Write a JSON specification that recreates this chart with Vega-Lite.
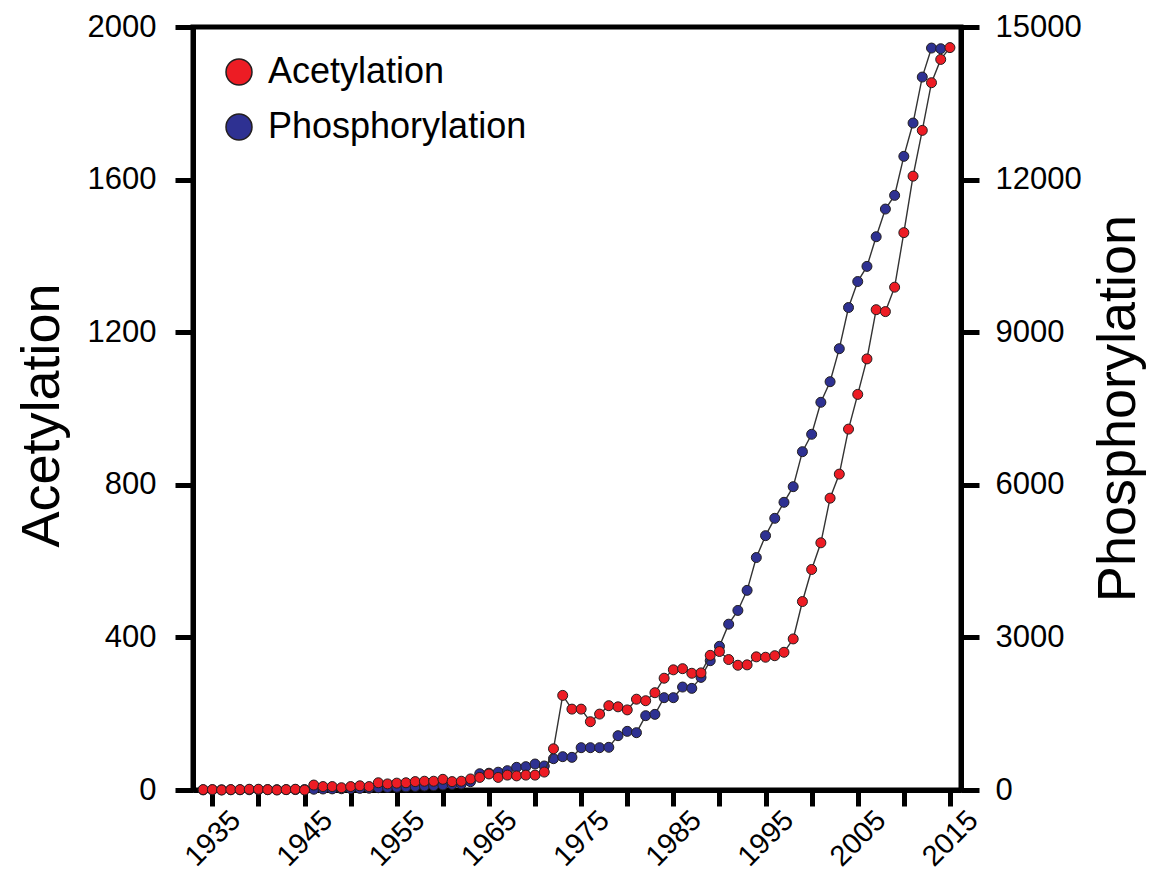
{
  "$schema": "https://vega.github.io/schema/vega-lite/v6.json",
  "autosize": {"type": "none"},
  "width": 768,
  "height": 763,
  "padding": {"left": 193, "top": 27, "right": 190, "bottom": 92},
  "background": "white",
  "config": {
    "font": "Liberation Sans",
    "view": {"stroke": "black", "strokeWidth": 5},
    "axis": {
      "domainColor": "black",
      "domainWidth": 5,
      "tickColor": "black",
      "tickWidth": 5,
      "tickSize": 18,
      "grid": false,
      "labelColor": "black",
      "labelFont": "Liberation Sans",
      "labelFontSize": 31,
      "titleFont": "Liberation Sans",
      "titleFontWeight": "normal",
      "titleColor": "black",
      "titleFontSize": 54
    }
  },
  "data": {
    "values": [
      {"year": 1934, "acetylation": 1, "phosphorylation": 2},
      {"year": 1935, "acetylation": 1, "phosphorylation": 3},
      {"year": 1936, "acetylation": 0, "phosphorylation": 3},
      {"year": 1937, "acetylation": 1, "phosphorylation": 4},
      {"year": 1938, "acetylation": 1, "phosphorylation": 4},
      {"year": 1939, "acetylation": 2, "phosphorylation": 5},
      {"year": 1940, "acetylation": 2, "phosphorylation": 5},
      {"year": 1941, "acetylation": 1, "phosphorylation": 6},
      {"year": 1942, "acetylation": 0, "phosphorylation": 6},
      {"year": 1943, "acetylation": 1, "phosphorylation": 7},
      {"year": 1944, "acetylation": 2, "phosphorylation": 8},
      {"year": 1945, "acetylation": 0, "phosphorylation": 8},
      {"year": 1946, "acetylation": 13, "phosphorylation": 15},
      {"year": 1947, "acetylation": 9, "phosphorylation": 20},
      {"year": 1948, "acetylation": 9, "phosphorylation": 22},
      {"year": 1949, "acetylation": 6, "phosphorylation": 25},
      {"year": 1950, "acetylation": 9, "phosphorylation": 28},
      {"year": 1951, "acetylation": 11, "phosphorylation": 32},
      {"year": 1952, "acetylation": 9, "phosphorylation": 35},
      {"year": 1953, "acetylation": 19, "phosphorylation": 45},
      {"year": 1954, "acetylation": 16, "phosphorylation": 50},
      {"year": 1955, "acetylation": 18, "phosphorylation": 55},
      {"year": 1956, "acetylation": 19, "phosphorylation": 62},
      {"year": 1957, "acetylation": 22, "phosphorylation": 70},
      {"year": 1958, "acetylation": 23, "phosphorylation": 78},
      {"year": 1959, "acetylation": 23, "phosphorylation": 85},
      {"year": 1960, "acetylation": 28, "phosphorylation": 100},
      {"year": 1961, "acetylation": 22, "phosphorylation": 110},
      {"year": 1962, "acetylation": 23, "phosphorylation": 120},
      {"year": 1963, "acetylation": 29, "phosphorylation": 163},
      {"year": 1964, "acetylation": 33, "phosphorylation": 320},
      {"year": 1965, "acetylation": 42, "phosphorylation": 330},
      {"year": 1966, "acetylation": 33, "phosphorylation": 350},
      {"year": 1967, "acetylation": 39, "phosphorylation": 380},
      {"year": 1968, "acetylation": 37, "phosphorylation": 446},
      {"year": 1969, "acetylation": 39, "phosphorylation": 459},
      {"year": 1970, "acetylation": 39, "phosphorylation": 511},
      {"year": 1971, "acetylation": 47, "phosphorylation": 472},
      {"year": 1972, "acetylation": 108, "phosphorylation": 616},
      {"year": 1973, "acetylation": 248, "phosphorylation": 655},
      {"year": 1974, "acetylation": 212, "phosphorylation": 642},
      {"year": 1975, "acetylation": 212, "phosphorylation": 832},
      {"year": 1976, "acetylation": 179, "phosphorylation": 832},
      {"year": 1977, "acetylation": 199, "phosphorylation": 832},
      {"year": 1978, "acetylation": 221, "phosphorylation": 839},
      {"year": 1979, "acetylation": 218, "phosphorylation": 1068},
      {"year": 1980, "acetylation": 210, "phosphorylation": 1153},
      {"year": 1981, "acetylation": 238, "phosphorylation": 1127},
      {"year": 1982, "acetylation": 234, "phosphorylation": 1461},
      {"year": 1983, "acetylation": 255, "phosphorylation": 1487},
      {"year": 1984, "acetylation": 293, "phosphorylation": 1815},
      {"year": 1985, "acetylation": 315, "phosphorylation": 1815},
      {"year": 1986, "acetylation": 318, "phosphorylation": 2024},
      {"year": 1987, "acetylation": 306, "phosphorylation": 1998},
      {"year": 1988, "acetylation": 307, "phosphorylation": 2214},
      {"year": 1989, "acetylation": 353, "phosphorylation": 2542},
      {"year": 1990, "acetylation": 363, "phosphorylation": 2825},
      {"year": 1991, "acetylation": 342, "phosphorylation": 3260},
      {"year": 1992, "acetylation": 327, "phosphorylation": 3530},
      {"year": 1993, "acetylation": 328, "phosphorylation": 3925},
      {"year": 1994, "acetylation": 349, "phosphorylation": 4570},
      {"year": 1995, "acetylation": 348, "phosphorylation": 5000},
      {"year": 1996, "acetylation": 352, "phosphorylation": 5341},
      {"year": 1997, "acetylation": 361, "phosphorylation": 5656},
      {"year": 1998, "acetylation": 396, "phosphorylation": 5963},
      {"year": 1999, "acetylation": 494, "phosphorylation": 6651},
      {"year": 2000, "acetylation": 578, "phosphorylation": 6993},
      {"year": 2001, "acetylation": 648, "phosphorylation": 7622},
      {"year": 2002, "acetylation": 765, "phosphorylation": 8027},
      {"year": 2003, "acetylation": 828, "phosphorylation": 8676},
      {"year": 2004, "acetylation": 946, "phosphorylation": 9485},
      {"year": 2005, "acetylation": 1037, "phosphorylation": 9996},
      {"year": 2006, "acetylation": 1130, "phosphorylation": 10294},
      {"year": 2007, "acetylation": 1259, "phosphorylation": 10877},
      {"year": 2008, "acetylation": 1254, "phosphorylation": 11421},
      {"year": 2009, "acetylation": 1318, "phosphorylation": 11690},
      {"year": 2010, "acetylation": 1461, "phosphorylation": 12457},
      {"year": 2011, "acetylation": 1609, "phosphorylation": 13112},
      {"year": 2012, "acetylation": 1729, "phosphorylation": 14016},
      {"year": 2013, "acetylation": 1854, "phosphorylation": 14586},
      {"year": 2014, "acetylation": 1915, "phosphorylation": 14573},
      {"year": 2015, "acetylation": 1946}
    ]
  },
  "encoding": {
    "x": {
      "field": "year",
      "type": "quantitative",
      "scale": {"domain": [1932.9, 2016.2], "nice": false, "zero": false},
      "axis": {
        "title": null,
        "values": [1935, 1940, 1945, 1950, 1955, 1960, 1965, 1970, 1975, 1980, 1985, 1990, 1995, 2000, 2005, 2010, 2015],
        "labelExpr": "datum.value % 10 === 5 ? format(datum.value, 'd') : ''",
        "tickSize": 16,
        "labelAngle": -45,
        "labelAlign": "center",
        "labelBaseline": "middle",
        "labelPadding": 32,
        "labelFontSize": 29,
        "labelOverlap": false,
        "labelBound": false,
        "labelFlush": false
      }
    }
  },
  "layer": [
    {
      "encoding": {
        "y": {
          "field": "phosphorylation",
          "type": "quantitative",
          "scale": {"domain": [0, 15000], "nice": false},
          "axis": {
            "orient": "right",
            "title": "Phosphorylation",
            "values": [0, 3000, 6000, 9000, 12000, 15000],
            "format": "d",
            "labelPadding": 16,
            "titleAngle": -90,
            "titleAlign": "center",
            "titleBaseline": "middle",
            "titleX": 157,
            "titleY": 381
          }
        }
      },
      "layer": [
        {"mark": {"type": "line", "color": "#333333", "strokeWidth": 1.4}},
        {
          "mark": {"type": "point", "shape": "circle", "filled": true, "opacity": 1, "size": 100, "stroke": "#231f20", "strokeWidth": 1},
          "encoding": {"color": {"datum": "Phosphorylation", "type": "nominal"}}
        }
      ]
    },
    {
      "encoding": {
        "y": {
          "field": "acetylation",
          "type": "quantitative",
          "scale": {"domain": [0, 2000], "nice": false},
          "axis": {
            "orient": "left",
            "title": "Acetylation",
            "values": [0, 400, 800, 1200, 1600, 2000],
            "format": "d",
            "labelPadding": 19,
            "titleAngle": -90,
            "titleAlign": "center",
            "titleBaseline": "middle",
            "titleX": -151,
            "titleY": 388
          }
        }
      },
      "layer": [
        {"mark": {"type": "line", "color": "#333333", "strokeWidth": 1.4}},
        {
          "mark": {"type": "point", "shape": "circle", "filled": true, "opacity": 1, "size": 100, "stroke": "#231f20", "strokeWidth": 1},
          "encoding": {
            "color": {
              "datum": "Acetylation",
              "type": "nominal",
              "scale": {"domain": ["Acetylation", "Phosphorylation"], "range": ["#ed1c24", "#2e3192"]},
              "legend": {
                "title": null,
                "orient": "none",
                "legendX": 28,
                "legendY": 27,
                "symbolType": "circle",
                "symbolSize": 676,
                "symbolStrokeColor": "#231f20",
                "symbolStrokeWidth": 1.5,
                "symbolOpacity": 1,
                "labelFont": "Liberation Sans",
                "labelFontSize": 36,
                "labelColor": "black",
                "labelOffset": 11,
                "labelLimit": 0,
                "rowPadding": 19,
                "padding": 0
              }
            }
          }
        }
      ]
    }
  ],
  "resolve": {"scale": {"y": "independent"}}
}
